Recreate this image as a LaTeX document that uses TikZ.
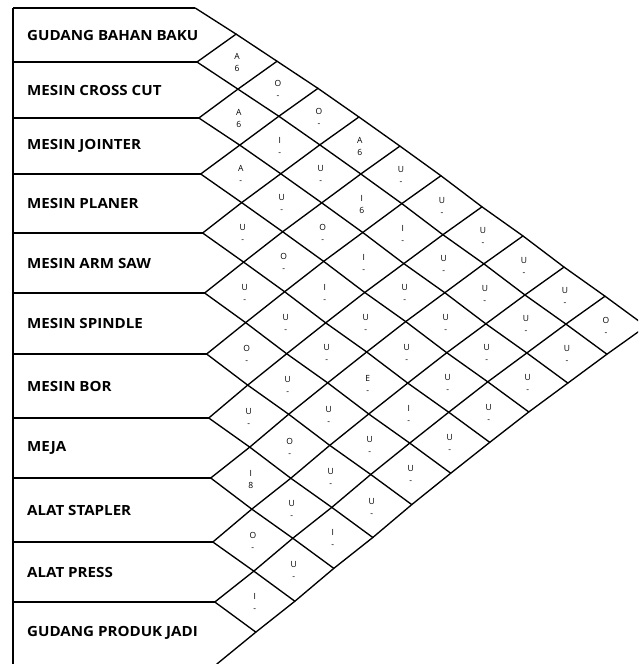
\documentclass[tikz,border=0pt]{standalone}
\usepackage{fontspec}
\setmainfont{Open Sans}
\newcommand\rowY[1]{\ifcase#1 8\or 62\or 118\or 174\or 233\or 293\or 354\or 418\or 478\or 542\or 602\or 664\fi}
\begin{document}
\begin{tikzpicture}[x=1pt,y=-1pt,
  gridline/.style={line width=1.35pt, line join=miter, line cap=round},
  boxline/.style={line width=1.5pt},
  dept/.style={font=\bfseries\fontsize{14}{14}\selectfont, anchor=west, inner sep=0pt, xscale=1.08},
  rel/.style={font=\fontsize{8.5}{12}\selectfont, align=center, inner sep=0pt}]
\useasboundingbox (0,0) rectangle (638,664);
\clip (0,0) rectangle (638,664);
% lattice vertices
\foreach \a in {0,...,11}{
  \foreach \b in {\a,...,11}{
    \pgfmathsetmacro\ya{\rowY{\a}}
    \pgfmathsetmacro\yb{\rowY{\b}}
    \pgfmathsetmacro\yy{(\ya+\yb)/2}
    \pgfmathsetmacro\xx{197+0.033*(\yy-62)+40*(\b-\a)}
    \pgfmathsetmacro\yv{\yy-0.88*(\b-\a)}
    \coordinate (V-\a-\b) at (\xx,\yv);
  }
}
% left corners of the boxes
\foreach \a in {0,...,11}{
  \pgfmathsetmacro\yb{\rowY{\a}}
  \coordinate (L-\a) at (13,\yb);
}
% box outlines
\draw[boxline] (L-0) -- (V-0-0);
\draw[boxline] (L-0) -- (L-11);
\foreach \a in {1,...,10}{
  \draw[boxline] (L-\a) -- (V-\a-\a);
}
% diagonal grid lines (down-right)
\foreach \a in {0,...,10}{
  \pgfmathtruncatemacro\an{\a+1}
  \draw[gridline] (V-\a-\a) \foreach \b in {\an,...,11}{ -- (V-\a-\b)};
}
% diagonal grid lines (up-right)
\foreach \b in {1,...,11}{
  \pgfmathtruncatemacro\bm{\b-1}
  \draw[gridline] (V-\b-\b) \foreach \a in {\bm,...,0}{ -- (V-\a-\b)};
}
% department labels
\foreach \i/\t in {1/GUDANG BAHAN BAKU, 2/MESIN CROSS CUT, 3/MESIN JOINTER,
  4/MESIN PLANER, 5/MESIN ARM SAW, 6/MESIN SPINDLE, 7/MESIN BOR, 8/MEJA,
  9/ALAT STAPLER, 10/ALAT PRESS, 11/GUDANG PRODUK JADI}{
  \pgfmathtruncatemacro\im{\i-1}
  \pgfmathsetmacro\ya{\rowY{\im}}
  \pgfmathsetmacro\yb{\rowY{\i}}
  \pgfmathsetmacro\ym{(\ya+\yb)/2}
  \node[dept] (d\i) at (27,\ym) {\t};
}
% relationship codes
\foreach \i/\j/\lt/\sd in {
  1/2/A/6, 2/3/A/6, 3/4/A/-, 4/5/U/-, 5/6/U/-, 6/7/O/-, 7/8/U/-, 8/9/I/8, 9/10/O/-, 10/11/I/-,
  1/3/O/-, 2/4/I/-, 3/5/U/-, 4/6/O/-, 5/7/U/-, 6/8/U/-, 7/9/O/-, 8/10/U/-, 9/11/U/-,
  1/4/O/-, 2/5/U/-, 3/6/O/-, 4/7/I/-, 5/8/U/-, 6/9/U/-, 7/10/U/-, 8/11/I/-,
  1/5/A/6, 2/6/I/6, 3/7/I/-, 4/8/U/-, 5/9/E/-, 6/10/U/-, 7/11/U/-,
  1/6/U/-, 2/7/I/-, 3/8/U/-, 4/9/U/-, 5/10/I/-, 6/11/U/-,
  1/7/U/-, 2/8/U/-, 3/9/U/-, 4/10/U/-, 5/11/U/-,
  1/8/U/-, 2/9/U/-, 3/10/U/-, 4/11/U/-,
  1/9/U/-, 2/10/U/-, 3/11/U/-,
  1/10/U/-, 2/11/U/-,
  1/11/O/-}{
  \pgfmathtruncatemacro\im{\i-1}
  \pgfmathtruncatemacro\jm{\j-1}
  \pgfmathsetmacro\ya{\rowY{\im}}
  \pgfmathsetmacro\yb{\rowY{\i}}
  \pgfmathsetmacro\yc{\rowY{\jm}}
  \pgfmathsetmacro\yd{\rowY{\j}}
  \pgfmathsetmacro\yy{(\ya+\yb+\yc+\yd)/4}
  \pgfmathsetmacro\xx{197+0.033*(\yy-62)+40*(\j-\i)}
  \pgfmathsetmacro\yn{\yy-0.88*(\j-\i)+1}
  \node[rel] (r\i-\j) at (\xx,\yn) {\lt\\\sd};
}
\end{tikzpicture}
\end{document}
